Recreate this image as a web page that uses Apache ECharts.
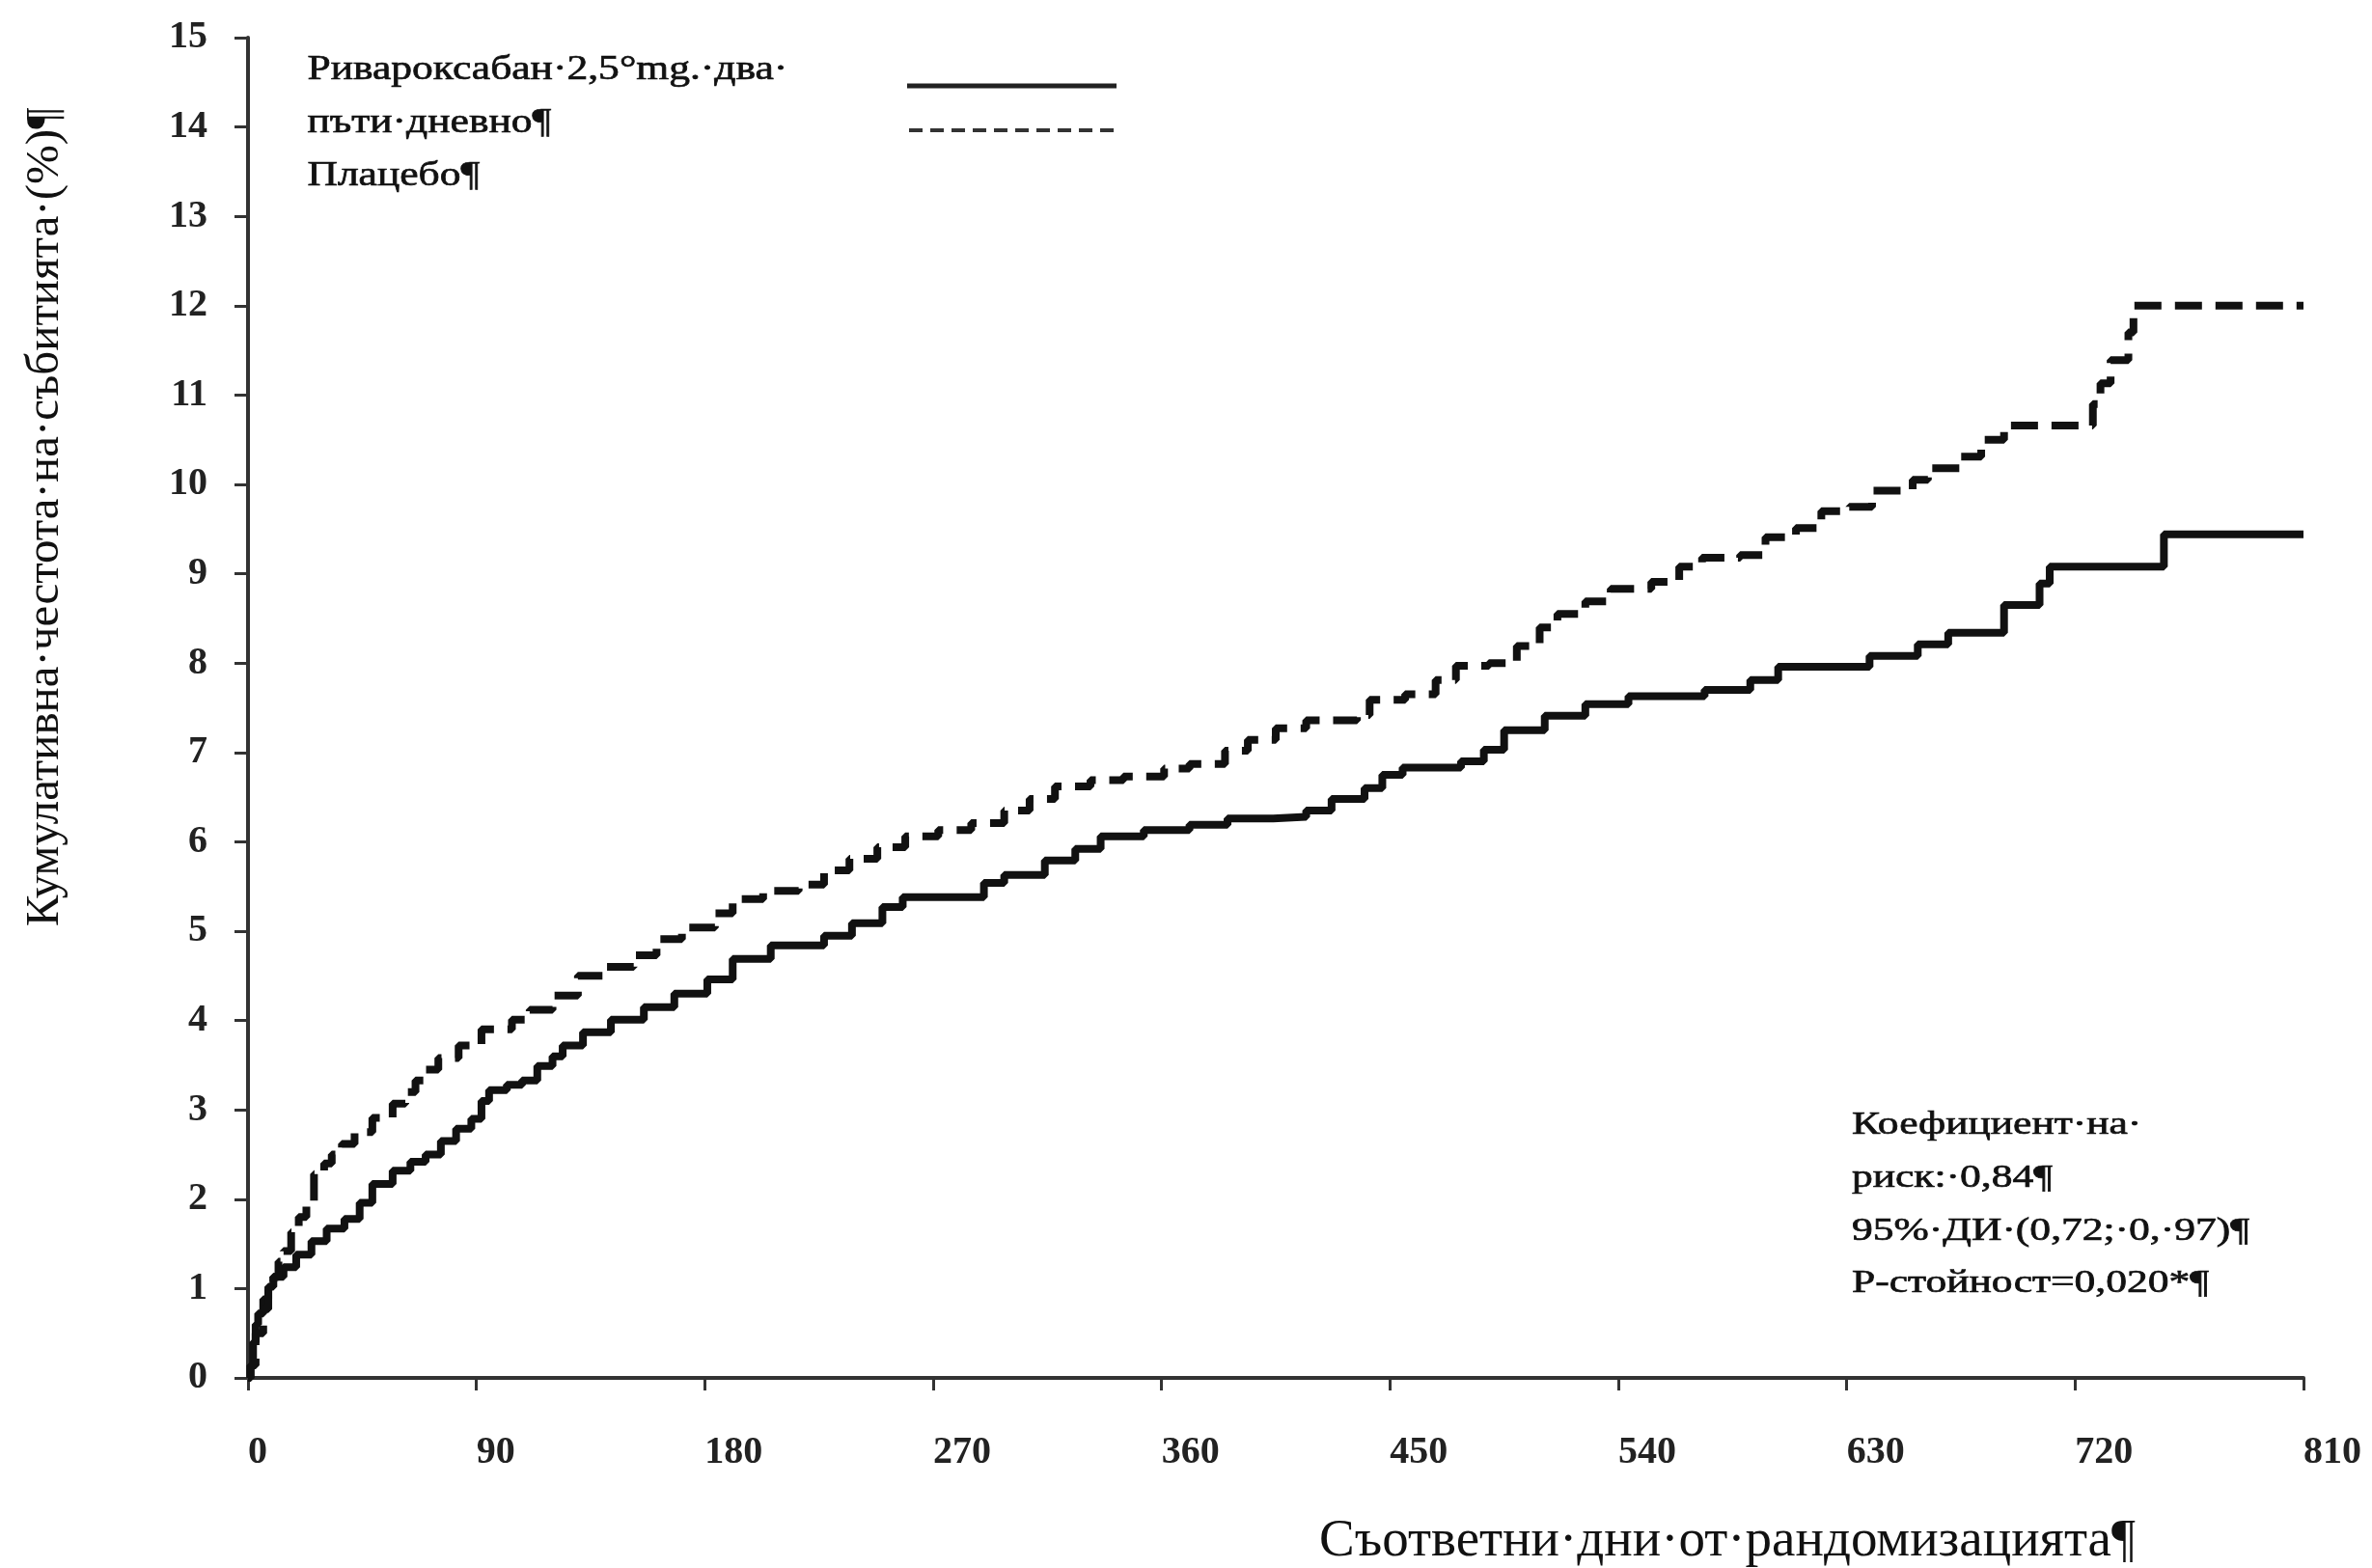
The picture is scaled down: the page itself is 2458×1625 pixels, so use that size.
<!DOCTYPE html>
<html>
<head>
<meta charset="utf-8">
<script src="https://cdn.jsdelivr.net/npm/echarts@6/dist/echarts.min.js"></script>
<style>
html,body{margin:0;padding:0;background:#fff;}
#chart{width:2458px;height:1625px;}
</style>
</head>
<body>
<div id="chart"></div>
<script>
// ---- data ----
var rivaDays = [0,1,2,3,4,6,8,10,14,19,25,31,38,44,49,57,64,70,76,82,88,92,95,102,108,114,120,124,132,143,156,168,181,191,206,227,238,250,258,290,298,314,326,336,353,371,386,404,417,427,440,447,455,478,487,495,511,527,544,574,592,603,639,658,670,692,706,710,755,810];
var rivaValues = [0,0.14,0.4,0.6,0.72,0.88,1.02,1.13,1.24,1.38,1.53,1.67,1.78,1.96,2.17,2.32,2.42,2.5,2.65,2.79,2.9,3.1,3.22,3.28,3.33,3.49,3.6,3.72,3.87,4.01,4.15,4.3,4.46,4.69,4.84,4.95,5.09,5.27,5.38,5.54,5.63,5.79,5.92,6.06,6.13,6.19,6.26,6.28,6.35,6.48,6.6,6.75,6.83,6.9,7.03,7.25,7.41,7.54,7.63,7.7,7.81,7.96,8.08,8.21,8.34,8.65,8.89,9.08,9.44,9.44];

var placeboDays = [0,1,3,6,8,10,12,14,17,20,23,26,30,33,37,42,49,57,62,66,70,75,83,92,104,111,120,130,141,152,161,171,184,191,203,217,227,237,248,259,272,285,298,308,318,332,345,361,371,385,394,405,417,437,442,456,468,476,489,500,509,516,527,537,553,564,573,588,598,610,620,631,640,656,662,675,683,692,727,730,734,741,743,810];
var placeboValues = [0,0.14,0.5,0.77,0.98,1.13,1.3,1.42,1.63,1.8,1.96,2.28,2.4,2.5,2.62,2.75,2.91,3.07,3.2,3.33,3.45,3.58,3.72,3.9,4.01,4.12,4.28,4.5,4.6,4.73,4.91,5.04,5.2,5.36,5.45,5.52,5.68,5.81,5.94,6.06,6.13,6.21,6.35,6.48,6.62,6.69,6.73,6.82,6.87,7.02,7.14,7.27,7.36,7.42,7.59,7.65,7.81,7.97,8.0,8.19,8.4,8.55,8.69,8.83,8.91,9.08,9.18,9.21,9.41,9.51,9.7,9.75,9.93,10.05,10.18,10.31,10.5,10.66,10.9,11.13,11.39,11.7,12.0,12.0];

var legendLines = ["Ривароксабан·2,5°mg.·два·", "пъти·дневно¶", "Плацебо¶"];
var statLines = ["Коефициент·на·", "риск:·0,84¶", "95%·ДИ·(0,72;·0,·97)¶", "Р-стойност=0,020*¶"];
var yTitle = "Кумулативна·честота·на·събитията·(%)¶";
var xTitle = "Съответни·дни·от·рандомизацията¶";

function pairs(xs, ys){ return xs.map(function(x,i){ return [x, ys[i]]; }); }

var serif = "'Liberation Serif','Times New Roman',serif";
var graphics = [];
// legend text
var legendY = [75, 130, 185];
legendLines.forEach(function(t, i){
  graphics.push({type:'text', left:318, top:legendY[i]-21, scaleX:1.21, style:{text:t, font:'36px ' + serif, fill:'#111', stroke:'#111', lineWidth:0.7}});
});
graphics.push({type:'line', shape:{x1:940,y1:89,x2:1157,y2:89}, style:{stroke:'#222', lineWidth:5}});
graphics.push({type:'line', shape:{x1:942,y1:135,x2:1154,y2:135}, style:{stroke:'#333', lineWidth:4, lineDash:[14,8]}});
// statistics text
var statY = [1166, 1221, 1276, 1330];
statLines.forEach(function(t, i){
  graphics.push({type:'text', x:1919, y:statY[i], scaleX:1.28, style:{text:t, font:'34px ' + serif, fill:'#111', stroke:'#111', lineWidth:0.7, textVerticalAlign:'middle', textAlign:'left'}});
});
// axis titles
graphics.push({type:'text', x:47, y:536, rotation:Math.PI/2, style:{text:yTitle, font:'49px ' + serif, fill:'#111', textAlign:'center', textVerticalAlign:'middle'}});
graphics.push({type:'text', x:1790, y:1598, style:{text:xTitle, font:'55px ' + serif, fill:'#111', textAlign:'center', textVerticalAlign:'middle'}});

var chart = echarts.init(document.getElementById('chart'), null, {renderer:'canvas'});
chart.setOption({
  backgroundColor:'#fff',
  animation:false,
  grid:{left:257, right:71, top:39, bottom:197, containLabel:false},
  xAxis:{
    type:'value', min:0, max:810, interval:90,
    axisLine:{show:true, lineStyle:{color:'#333', width:4}},
    axisTick:{show:true, length:13, lineStyle:{color:'#333', width:3}},
    axisLabel:{margin:58, align:'left', fontFamily:serif, fontWeight:'bold', fontSize:40, color:'#222'},
    splitLine:{show:false}
  },
  yAxis:{
    type:'value', min:0, max:15, interval:1,
    axisLine:{show:true, lineStyle:{color:'#333', width:4}},
    axisTick:{show:true, length:14, lineStyle:{color:'#333', width:3}},
    axisLabel:{margin:42, fontFamily:serif, fontWeight:'bold', fontSize:40, color:'#222'},
    splitLine:{show:false}
  },
  graphic:graphics,
  series:[
    {name:legendLines[0]+legendLines[1], type:'line', step:'end', showSymbol:false, symbol:'none',
     data:pairs(rivaDays, rivaValues), lineStyle:{color:'#111', width:8}},
    {name:legendLines[2], type:'line', step:'end', showSymbol:false, symbol:'none',
     data:pairs(placeboDays, placeboValues), lineStyle:{color:'#111', width:8, type:[28,14]}}
  ]
});
</script>
</body>
</html>
